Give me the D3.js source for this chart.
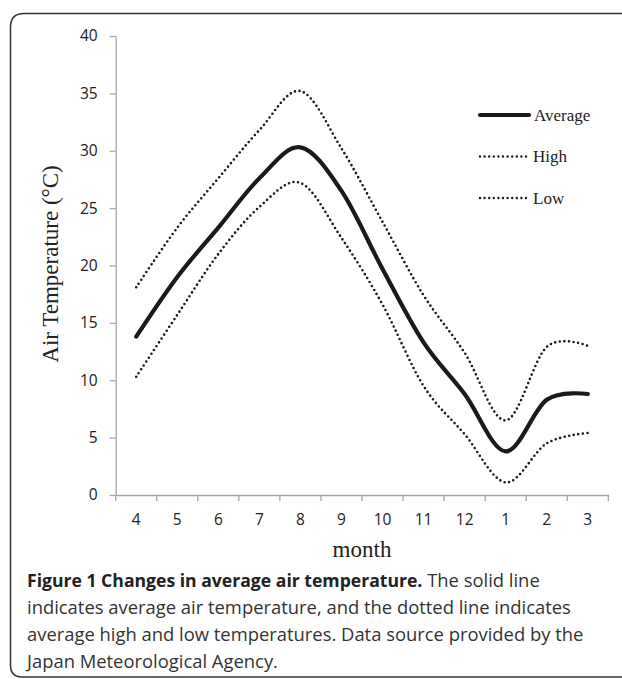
<!DOCTYPE html>
<html>
<head>
<meta charset="utf-8">
<script src="https://cdn.jsdelivr.net/npm/d3@7"></script>
<style>
  body { margin: 0; background: #fff; }
  svg { display: block; }
</style>
</head>
<body>
<div id="graph"></div>
<script>
const months = ["4", "5", "6", "7", "8", "9", "10", "11", "12", "1", "2", "3"];
const average = [13.8, 19.0, 23.3, 27.6, 30.3, 26.5, 19.7, 13.3, 8.8, 3.8, 8.3, 8.8];
const high = [18.1, 23.3, 27.6, 31.8, 35.2, 30.2, 23.8, 17.4, 12.4, 6.5, 12.9, 13.0];
const low = [10.3, 15.7, 21.0, 25.1, 27.2, 22.4, 16.6, 9.5, 5.3, 1.1, 4.5, 5.4];
const yTicks = [0, 5, 10, 15, 20, 25, 30, 35, 40];
const captionLines = [
    ["Figure 1 Changes in average air temperature.", " The solid line"],
    ["", "indicates average air temperature, and the dotted line indicates"],
    ["", "average high and low temperatures. Data source provided by the"],
    ["", "Japan Meteorological Agency."]
];

const width = 622, height = 679;
const plot = {left: 115.7, right: 608.3, top: 36, bottom: 495};

let svg = d3.select("#graph")
    .append("svg")
    .attr("width", width)
    .attr("height", height);

// figure frame, open on the right
svg.append("path")
    .attr("d", `M ${width + 10} 13.5 H 24 Q 10.5 13.5 10.5 27 V 665 Q 10.5 677 22 677 H ${width + 10}`)
    .attr("fill", "none")
    .attr("stroke", "#333")
    .attr("stroke-width", 1.5);

let x = d3.scaleBand()
    .domain(months)
    .range([plot.left, plot.right])
    .padding(0);

let y = d3.scaleLinear()
    .domain([0, 40])
    .range([plot.bottom, plot.top]);

let cx = d => x(d) + x.bandwidth() / 2;

// y axis
let yAxis = svg.append("g")
    .attr("transform", `translate(${plot.left}, 0)`)
    .call(d3.axisLeft(y).tickValues(yTicks).tickSize(6).tickSizeOuter(0).tickPadding(12));
yAxis.select(".domain").attr("stroke", "#a6a6a6").attr("stroke-width", 1.3);
yAxis.selectAll(".tick line").attr("stroke", "#a6a6a6").attr("stroke-width", 1.3);
yAxis.selectAll(".tick text")
    .attr("font-family", "'Open Sans', sans-serif")
    .attr("font-size", 15.5)
    .attr("fill", "#222");

// x axis: labels at band centres, ticks at band edges
let xAxis = svg.append("g")
    .attr("transform", `translate(0, ${plot.bottom})`)
    .call(d3.axisBottom(x).tickSize(0).tickPadding(19).tickSizeOuter(0));
xAxis.select(".domain").attr("stroke", "#a6a6a6").attr("stroke-width", 1.3);
xAxis.selectAll(".tick text")
    .attr("font-family", "'Open Sans', sans-serif")
    .attr("font-size", 15.5)
    .attr("fill", "#222");

let edges = months.map(m => x(m)).concat([plot.right]);
xAxis.selectAll(".edge")
    .data(edges)
    .enter().append("line")
    .attr("class", "edge")
    .attr("x1", d => d).attr("x2", d => d)
    .attr("y1", 0).attr("y2", 6)
    .attr("stroke", "#a6a6a6")
    .attr("stroke-width", 1.3);

// axis titles
svg.append("text")
    .attr("x", (plot.left + plot.right) / 2)
    .attr("y", 557)
    .attr("text-anchor", "middle")
    .attr("font-family", "'Liberation Serif', 'Times New Roman', serif")
    .attr("font-size", 23)
    .attr("fill", "#222")
    .text("month");

svg.append("text")
    .attr("transform", `translate(58, 264) rotate(-90)`)
    .attr("text-anchor", "middle")
    .attr("font-family", "'Liberation Serif', 'Times New Roman', serif")
    .attr("font-size", 23)
    .attr("fill", "#222")
    .text("Air Temperature (°C)");

// lines
let line = d3.line()
    .x((d, i) => cx(months[i]))
    .y(d => y(d))
    .curve(d3.curveCatmullRom.alpha(0));

let series = [
    {name: "Average", values: average, dotted: false},
    {name: "High", values: high, dotted: true},
    {name: "Low", values: low, dotted: true}
];

series.forEach(s => {
    let p = svg.append("path")
        .datum(s.values)
        .attr("d", line)
        .attr("fill", "none")
        .attr("stroke", "#1a1a1a")
        .attr("stroke-linecap", "round");
    if (s.dotted) {
        p.attr("stroke-width", 2.6).attr("stroke-dasharray", "0 4.6");
    } else {
        p.attr("stroke-width", 4.2);
    }
});

// legend
let legend = svg.append("g");
series.forEach((s, i) => {
    let ly = 115 + i * 41.5;
    let l = legend.append("line")
        .attr("x1", 480).attr("x2", s.dotted ? 527 : 529)
        .attr("y1", ly).attr("y2", ly)
        .attr("stroke", "#1a1a1a")
        .attr("stroke-linecap", "round");
    if (s.dotted) {
        l.attr("stroke-width", 2.4).attr("stroke-dasharray", "0 4.6");
    } else {
        l.attr("stroke-width", 4.2);
    }
    legend.append("text")
        .attr("x", s.dotted ? 533 : 534)
        .attr("y", ly + 5.5)
        .attr("font-family", "'Liberation Serif', 'Times New Roman', serif")
        .attr("font-size", 17)
        .attr("fill", "#222")
        .text(s.name);
});

// caption
let caption = svg.append("g")
    .attr("font-family", "'Open Sans', sans-serif")
    .attr("fill", "#222");
captionLines.forEach((parts, i) => {
    let t = caption.append("text")
        .attr("x", 27)
        .attr("y", 587 + i * 27);
    if (parts[0]) {
        t.append("tspan").attr("font-weight", "bold").attr("font-size", 17.6).text(parts[0]);
    }
    t.append("tspan").attr("font-weight", "normal").attr("font-size", 18.4).attr("fill", "#333").text(parts[1]);
});
</script>
</body>
</html>
